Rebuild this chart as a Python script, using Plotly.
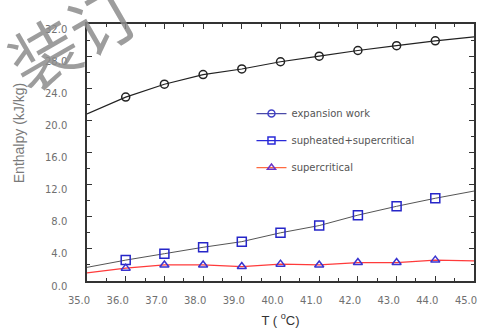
import plotly.graph_objects as go

T = [35.0, 36.0, 37.0, 38.0, 39.0, 40.0, 41.0, 42.0, 43.0, 44.0, 45.0]
expansion_work = [20.8, 22.9, 24.5, 25.7, 26.4, 27.3, 28.0, 28.7, 29.3, 29.9, 30.4]
supheated_supercritical = [1.7, 2.6, 3.4, 4.2, 4.9, 6.0, 6.9, 8.2, 9.3, 10.3, 11.2]
supercritical = [1.0, 1.6, 2.0, 2.0, 1.8, 2.1, 2.0, 2.3, 2.3, 2.6, 2.5]
names = ["expansion work", "supheated+supercritical", "supercritical"]

fig = go.Figure()

# lines over the full range
fig.add_trace(go.Scatter(x=T, y=expansion_work, mode="lines", line=dict(color="#222222", width=1.2), showlegend=False))
fig.add_trace(go.Scatter(x=T, y=supheated_supercritical, mode="lines", line=dict(color="#555555", width=1), showlegend=False))
fig.add_trace(go.Scatter(x=T, y=supercritical, mode="lines", line=dict(color="#ff3b3b", width=1.3), showlegend=False))
# markers at the measured points
fig.add_trace(go.Scatter(x=T[1:-1], y=expansion_work[1:-1], mode="markers",
                         marker=dict(symbol="circle-open", size=8, color="#222222", line=dict(width=1.5)), showlegend=False))
fig.add_trace(go.Scatter(x=T[1:-1], y=supheated_supercritical[1:-1], mode="markers",
                         marker=dict(symbol="square-open", size=9, color="#2626c8", line=dict(width=1.5)), showlegend=False))
fig.add_trace(go.Scatter(x=T[1:-1], y=supercritical[1:-1], mode="markers",
                         marker=dict(symbol="triangle-up-open", size=8, color="#3a34d0", line=dict(width=1.5)), showlegend=False))

# legend entries
leg_styles = [("#4a4aa8", "circle-open", "#4040c8"),
              ("#2a2ad8", "square-open", "#2a2ad8"),
              ("#ff6a40", "triangle-up-open", "#6a34c8")]
for i, (nm, (lc, sym, mc)) in enumerate(zip(names, leg_styles)):
    fig.add_trace(go.Scatter(x=[None], y=[None], mode="lines+markers", name=nm, legendgroup=str(i),
                             line=dict(color=lc, width=1.3),
                             marker=dict(symbol=sym, size=7, color=mc, line=dict(width=1.5))))

axis_common = dict(showline=True, linecolor="#333333", linewidth=1.5, mirror="ticks",
                   ticks="inside", ticklen=5, tickcolor="#333333", tickwidth=1.2,
                   showgrid=False, zeroline=False, tickformat=".1f",
                   tickfont=dict(family="DejaVu Sans", size=10, color="#707070"))

fig.update_xaxes(range=[35, 45], dtick=1, tick0=35,
                 minor=dict(dtick=0.5, ticks="inside", ticklen=3, tickcolor="#333333"),
                 ticklabelshift=-8, ticklabelstandoff=9,
                 title=dict(text="T ( <sup>o</sup>C)", standoff=11,
                            font=dict(family="Liberation Sans", size=13, color="#333333")),
                 **axis_common)
fig.update_yaxes(range=[0, 32], dtick=4, tick0=0,
                 minor=dict(dtick=2, ticks="inside", ticklen=3, tickcolor="#333333"),
                 ticklabelshift=5, ticklabelstandoff=16,
                 **axis_common)

fig.add_annotation(text="Enthalpy (kJ/kg)", xref="paper", yref="paper", x=0, xshift=-78, y=0.575,
                   showarrow=False, textangle=-90,
                   font=dict(family="Liberation Sans", size=14, color="#7a7a7a"))

fig.add_annotation(text="装订", xref="paper", yref="paper", x=-0.04, y=0.96,
                   xanchor="center", yanchor="middle",
                   showarrow=False, textangle=-30,
                   font=dict(family="Noto Sans CJK SC", size=68, color="rgba(140,140,140,0.85)"))

fig.update_layout(width=482, height=331, margin=dict(l=87, r=5, t=24, b=46),
                  plot_bgcolor="white", paper_bgcolor="white",
                  legend=dict(x=0.425, y=0.708, xanchor="left", yanchor="top",
                              bgcolor="rgba(0,0,0,0)", traceorder="grouped", tracegroupgap=8,
                              font=dict(family="DejaVu Sans", size=10, color="#555555")))

fig.write_html("out.html", config={"displayModeBar": False},
               post_script="document.body.style.margin='0';")
